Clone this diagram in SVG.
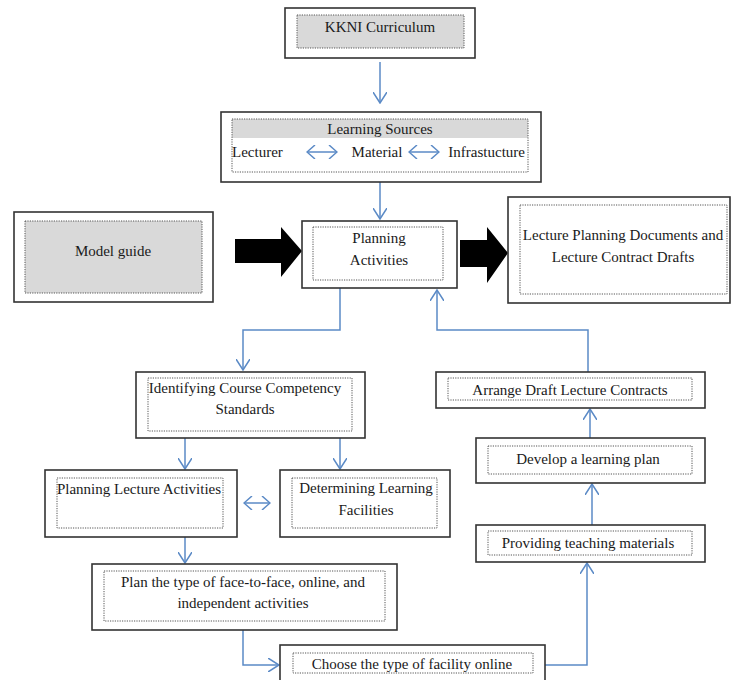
<svg xmlns="http://www.w3.org/2000/svg" width="731" height="680" viewBox="0 0 731 680">
<style>
.outer{fill:#fff;stroke:#333;stroke-width:1.6}
.inner{fill:none;stroke:#555;stroke-width:1;stroke-dasharray:1.2 1.2}
.gray{fill:#d9d9d9}
.t{font-family:"Liberation Serif","Times New Roman",serif;font-size:15px;fill:#1a1a1a;text-anchor:middle}
.c{fill:none;stroke:#5b8ac6;stroke-width:1.5}
.big{fill:#000}
</style>
<defs>
<marker id="ah" viewBox="0 0 12 14" refX="11" refY="7" markerWidth="12" markerHeight="14" markerUnits="userSpaceOnUse" orient="auto">
<path d="M0,0 L11,7 L0,14" fill="none" stroke="#5b8ac6" stroke-width="1.5"/>
</marker>
<marker id="dh" viewBox="0 0 10 14" refX="9" refY="7" markerWidth="10" markerHeight="14" markerUnits="userSpaceOnUse" orient="auto-start-reverse">
<path d="M1,0 L9,7 L1,14" fill="none" stroke="#5b8ac6" stroke-width="1.5"/>
</marker>
</defs>

<g id="connectors">
<line class="c" x1="380" y1="62" x2="380" y2="103" marker-end="url(#ah)"/>
<line class="c" x1="380" y1="182" x2="380" y2="219" marker-end="url(#ah)"/>
<polyline class="c" points="340,288 340,330 243,330 243,370" marker-end="url(#ah)"/>
<polyline class="c" points="588,372 588,330 437,330 437,290" marker-end="url(#ah)"/>
<line class="c" x1="185" y1="438" x2="185" y2="469" marker-end="url(#ah)"/>
<line class="c" x1="340" y1="438" x2="340" y2="469" marker-end="url(#ah)"/>
<line class="c" x1="185" y1="537" x2="185" y2="563" marker-end="url(#ah)"/>
<polyline class="c" points="243,630 243,665 279,665" marker-end="url(#ah)"/>
<polyline class="c" points="545,665 587,665 587,563" marker-end="url(#ah)"/>
<line class="c" x1="592" y1="525" x2="592" y2="484" marker-end="url(#ah)"/>
<line class="c" x1="590" y1="438" x2="590" y2="409" marker-end="url(#ah)"/>
<line class="c" x1="244" y1="503" x2="270" y2="503" marker-start="url(#dh)" marker-end="url(#dh)"/>
<polygon class="big" points="235,239 281,239 281,227 302,251 281,277 281,263 235,263"/>
<polygon class="big" points="460,240 487,240 487,227 508,253 487,283 487,267 460,267"/>
</g>

<g id="kkni">
<rect class="outer" x="285" y="8" width="190" height="50"/>
<rect class="gray" x="297" y="15" width="167" height="33"/>
<rect class="inner" x="297" y="15" width="167" height="33"/>
<text class="t" x="380" y="32">KKNI Curriculum</text>
</g>

<g id="learning-sources">
<rect class="outer" x="221" y="112" width="320" height="70"/>
<rect class="gray" x="232" y="119" width="296" height="19"/>
<rect class="inner" x="232" y="119" width="296" height="53"/>
<text class="t" x="380" y="134">Learning Sources</text>
<text class="t" x="232" y="157" style="text-anchor:start">Lecturer</text>
<text class="t" x="377" y="157">Material</text>
<text class="t" x="525" y="157" style="text-anchor:end">Infrastucture</text>
<line class="c" x1="307" y1="152" x2="337" y2="152" marker-start="url(#dh)" marker-end="url(#dh)"/>
<line class="c" x1="409" y1="152" x2="439" y2="152" marker-start="url(#dh)" marker-end="url(#dh)"/>
</g>

<g id="model-guide">
<rect class="outer" x="14" y="212" width="199" height="90"/>
<rect class="gray" x="25" y="221" width="177" height="72"/>
<rect class="inner" x="25" y="221" width="177" height="72"/>
<text class="t" x="113" y="256">Model guide</text>
</g>

<g id="planning-activities">
<rect class="outer" x="302" y="221" width="155" height="67"/>
<rect class="inner" x="313" y="227" width="130" height="53"/>
<text class="t" x="379" y="243">Planning</text>
<text class="t" x="379" y="265">Activities</text>
</g>

<g id="lecture-docs">
<rect class="outer" x="508" y="197" width="222" height="106"/>
<rect class="inner" x="520" y="205" width="207" height="89"/>
<text class="t" x="623" y="240">Lecture Planning Documents and</text>
<text class="t" x="623" y="262">Lecture Contract Drafts</text>
</g>

<g id="identifying">
<rect class="outer" x="136" y="372" width="229" height="66"/>
<rect class="inner" x="148" y="378" width="204" height="53"/>
<text class="t" x="245" y="393">Identifying Course Competency</text>
<text class="t" x="245" y="414">Standards</text>
</g>

<g id="arrange">
<rect class="outer" x="436" y="372" width="269" height="36"/>
<rect class="inner" x="448" y="378" width="244" height="22"/>
<text class="t" x="570" y="395">Arrange Draft Lecture Contracts</text>
</g>

<g id="develop">
<rect class="outer" x="476" y="438" width="229" height="45"/>
<rect class="inner" x="488" y="446" width="204" height="28"/>
<text class="t" x="588" y="464">Develop a learning plan</text>
</g>

<g id="providing">
<rect class="outer" x="476" y="525" width="229" height="37"/>
<rect class="inner" x="488" y="531" width="204" height="24"/>
<text class="t" x="588" y="548">Providing teaching materials</text>
</g>

<g id="planning-lecture">
<rect class="outer" x="45" y="470" width="192" height="67"/>
<rect class="inner" x="57" y="478" width="166" height="50"/>
<text class="t" x="139" y="494">Planning Lecture Activities</text>
</g>

<g id="determining">
<rect class="outer" x="280" y="470" width="170" height="67"/>
<rect class="inner" x="292" y="478" width="145" height="50"/>
<text class="t" x="366" y="493">Determining Learning</text>
<text class="t" x="366" y="515">Facilities</text>
</g>

<g id="plan-type">
<rect class="outer" x="92" y="564" width="305" height="66"/>
<rect class="inner" x="104" y="571" width="281" height="50"/>
<text class="t" x="243" y="587">Plan the type of face-to-face, online, and</text>
<text class="t" x="243" y="608">independent activities</text>
</g>

<g id="choose">
<rect class="outer" x="280" y="645" width="265" height="45"/>
<rect class="inner" x="293" y="653" width="240" height="20"/>
<text class="t" x="412" y="669">Choose the type of facility online</text>
</g>
</svg>
